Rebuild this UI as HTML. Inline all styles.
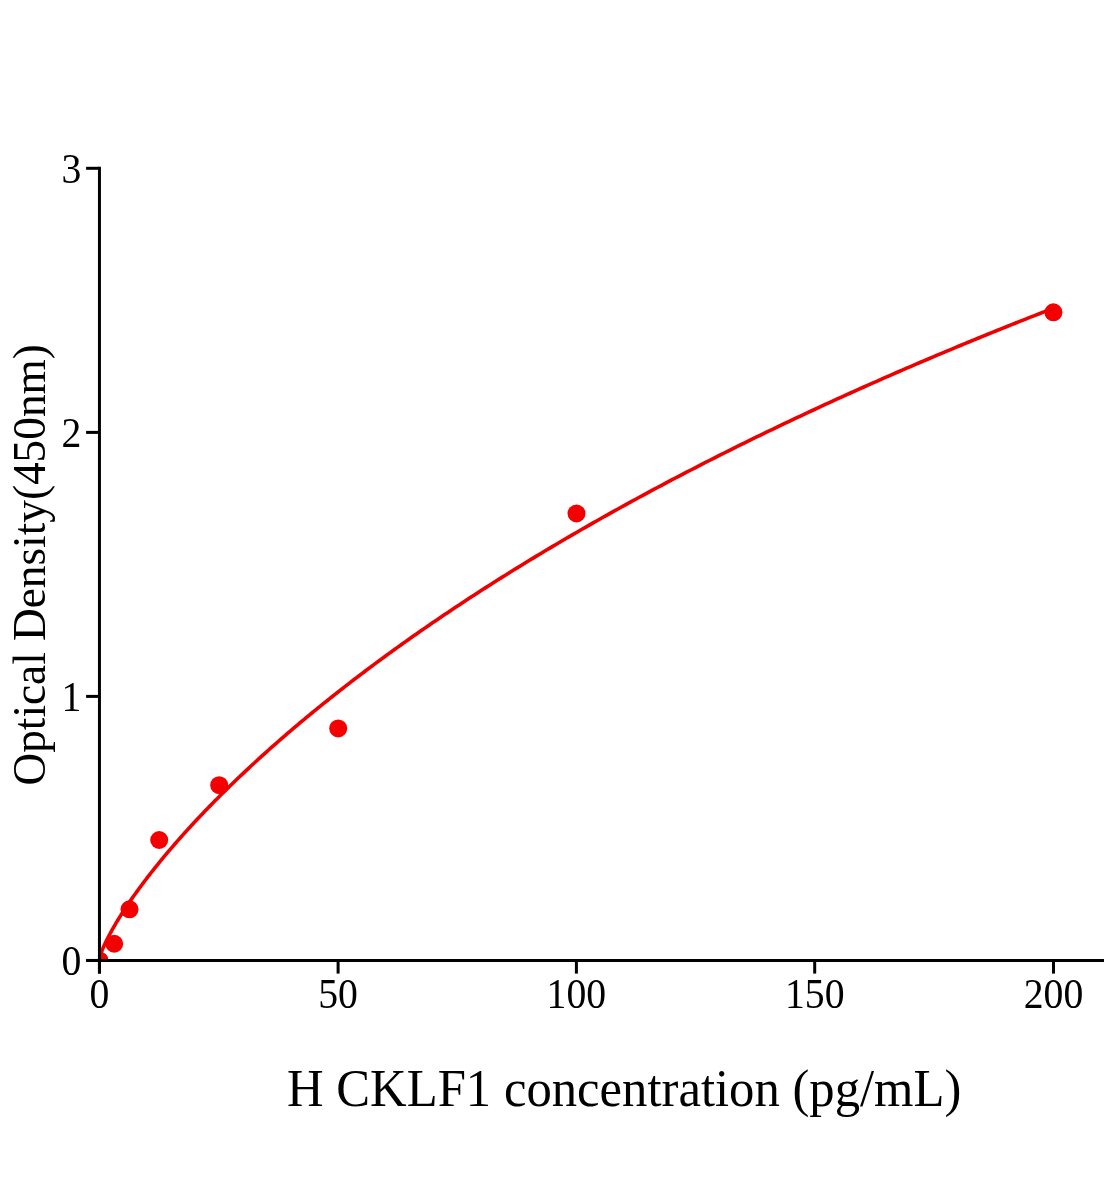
<!DOCTYPE html>
<html><head><meta charset="utf-8"><title>H CKLF1 standard curve</title>
<style>
html,body{margin:0;padding:0;background:#fff;}
body{width:1104px;height:1200px;overflow:hidden;}
svg{display:block;font-family:"Liberation Serif",serif;will-change:transform;}
</style></head>
<body>
<svg width="1104" height="1200" viewBox="0 0 1104 1200">
<rect width="1104" height="1200" fill="#ffffff"/>
<defs><clipPath id="plot"><rect x="99.45" y="0" width="1004.55" height="960.45"/></clipPath></defs>
<g fill="#f40000" clip-path="url(#plot)">
<circle cx="99.45" cy="960.45" r="9"/>
<circle cx="114.2" cy="943.75" r="9"/>
<circle cx="129.5" cy="909.3" r="9"/>
<circle cx="159.2" cy="840.0" r="9"/>
<circle cx="219.2" cy="785.2" r="9"/>
<circle cx="338.2" cy="728.4" r="9"/>
<circle cx="576.5" cy="513.5" r="9"/>
<circle cx="1053.4" cy="312.3" r="9"/>
</g>
<path d="M99.45,958.76 L99.46,958.69 L99.47,958.56 L99.50,958.38 L99.55,958.16 L99.60,957.90 L99.67,957.61 L99.74,957.29 L99.83,956.95 L99.94,956.58 L100.05,956.18 L100.18,955.76 L100.31,955.31 L100.46,954.85 L100.62,954.36 L100.80,953.85 L100.98,953.32 L101.18,952.77 L101.39,952.20 L101.61,951.62 L101.85,951.01 L102.09,950.39 L102.35,949.75 L102.62,949.09 L102.90,948.42 L103.20,947.73 L103.50,947.02 L103.82,946.30 L104.15,945.56 L104.49,944.81 L104.84,944.04 L105.21,943.25 L105.59,942.46 L105.98,941.64 L106.38,940.82 L106.79,939.98 L107.22,939.13 L107.65,938.26 L108.10,937.38 L108.57,936.48 L109.04,935.58 L109.52,934.66 L110.02,933.73 L110.53,932.78 L111.05,931.83 L111.59,930.86 L112.13,929.88 L112.69,928.89 L113.26,927.88 L113.84,926.87 L114.43,925.84 L115.04,924.80 L115.66,923.75 L116.28,922.69 L116.93,921.62 L117.58,920.54 L118.24,919.45 L118.92,918.34 L119.61,917.23 L120.31,916.11 L121.02,914.97 L121.75,913.83 L122.49,912.68 L123.24,911.51 L124.00,910.34 L124.77,909.16 L125.56,907.96 L126.35,906.76 L127.16,905.55 L127.98,904.33 L128.82,903.10 L129.66,901.86 L130.52,900.61 L131.39,899.36 L132.27,898.09 L133.16,896.82 L134.07,895.53 L134.98,894.24 L135.91,892.94 L136.85,891.63 L137.81,890.32 L138.77,888.99 L139.75,887.66 L140.74,886.32 L141.74,884.97 L142.75,883.61 L143.77,882.25 L144.81,880.88 L145.86,879.50 L146.92,878.11 L147.99,876.72 L149.08,875.31 L150.18,873.90 L151.28,872.49 L152.40,871.06 L153.54,869.63 L154.68,868.19 L155.84,866.75 L157.01,865.30 L158.19,863.84 L159.38,862.37 L160.59,860.90 L161.80,859.42 L163.03,857.94 L164.27,856.44 L165.52,854.95 L166.79,853.44 L168.06,851.93 L169.35,850.41 L170.65,848.89 L171.97,847.36 L173.29,845.82 L174.63,844.28 L175.98,842.73 L177.34,841.18 L178.71,839.62 L180.09,838.05 L181.49,836.48 L182.90,834.91 L184.32,833.32 L185.75,831.74 L187.19,830.14 L188.65,828.54 L190.12,826.94 L191.60,825.33 L193.09,823.72 L194.60,822.10 L196.11,820.47 L197.64,818.84 L199.18,817.21 L200.73,815.57 L202.30,813.92 L203.87,812.27 L205.46,810.61 L207.06,808.95 L208.67,807.29 L210.30,805.62 L211.93,803.95 L213.58,802.27 L215.24,800.59 L216.91,798.90 L218.60,797.21 L220.29,795.51 L222.00,793.81 L223.72,792.10 L225.45,790.40 L227.20,788.68 L228.95,786.96 L230.72,785.24 L232.50,783.52 L234.29,781.79 L236.10,780.05 L237.91,778.32 L239.74,776.57 L241.58,774.83 L243.43,773.08 L245.30,771.33 L247.17,769.57 L249.06,767.81 L250.96,766.04 L252.87,764.28 L254.80,762.51 L256.73,760.73 L258.68,758.95 L260.64,757.17 L262.61,755.39 L264.59,753.60 L266.59,751.81 L268.60,750.01 L270.62,748.21 L272.65,746.41 L274.69,744.61 L276.75,742.80 L278.82,740.99 L280.90,739.18 L282.99,737.36 L285.09,735.54 L287.21,733.72 L289.33,731.89 L291.47,730.07 L293.62,728.24 L295.79,726.40 L297.96,724.57 L300.15,722.73 L302.35,720.89 L304.56,719.04 L306.79,717.20 L309.02,715.35 L311.27,713.49 L313.53,711.64 L315.80,709.78 L318.08,707.93 L320.38,706.06 L322.69,704.20 L325.00,702.33 L327.34,700.47 L329.68,698.60 L332.03,696.72 L334.40,694.85 L336.78,692.97 L339.17,691.09 L341.58,689.21 L343.99,687.33 L346.42,685.44 L348.86,683.56 L351.31,681.67 L353.77,679.78 L356.25,677.89 L358.73,675.99 L361.23,674.10 L363.74,672.20 L366.27,670.30 L368.80,668.40 L371.35,666.49 L373.91,664.59 L376.48,662.68 L379.06,660.77 L381.66,658.87 L384.26,656.95 L386.88,655.04 L389.51,653.13 L392.16,651.21 L394.81,649.30 L397.48,647.38 L400.16,645.46 L402.85,643.54 L405.55,641.62 L408.27,639.69 L410.99,637.77 L413.73,635.84 L416.48,633.92 L419.25,631.99 L422.02,630.06 L424.81,628.13 L427.61,626.20 L430.42,624.26 L433.24,622.33 L436.07,620.40 L438.92,618.46 L441.78,616.52 L444.65,614.59 L447.53,612.65 L450.43,610.71 L453.33,608.77 L456.25,606.83 L459.18,604.89 L462.13,602.94 L465.08,601.00 L468.05,599.06 L471.03,597.11 L474.02,595.17 L477.02,593.22 L480.03,591.27 L483.06,589.33 L486.10,587.38 L489.15,585.43 L492.21,583.48 L495.29,581.53 L498.37,579.58 L501.47,577.63 L504.58,575.68 L507.70,573.73 L510.84,571.78 L513.98,569.83 L517.14,567.87 L520.31,565.92 L523.49,563.97 L526.69,562.02 L529.90,560.06 L533.11,558.11 L536.34,556.15 L539.59,554.20 L542.84,552.24 L546.11,550.29 L549.38,548.34 L552.67,546.38 L555.98,544.43 L559.29,542.47 L562.62,540.51 L565.96,538.56 L569.31,536.60 L572.67,534.65 L576.04,532.69 L579.43,530.74 L582.83,528.78 L586.24,526.83 L589.66,524.87 L593.09,522.92 L596.54,520.96 L600.00,519.01 L603.47,517.05 L606.95,515.10 L610.44,513.14 L613.95,511.19 L617.47,509.24 L621.00,507.28 L624.54,505.33 L628.09,503.37 L631.66,501.42 L635.23,499.47 L638.82,497.52 L642.43,495.57 L646.04,493.61 L649.67,491.66 L653.30,489.71 L656.95,487.76 L660.62,485.81 L664.29,483.86 L667.97,481.91 L671.67,479.96 L675.38,478.02 L679.10,476.07 L682.84,474.12 L686.58,472.17 L690.34,470.23 L694.11,468.28 L697.89,466.34 L701.69,464.39 L705.49,462.45 L709.31,460.51 L713.14,458.56 L716.98,456.62 L720.83,454.68 L724.70,452.74 L728.58,450.80 L732.47,448.86 L736.37,446.92 L740.28,444.98 L744.21,443.05 L748.14,441.11 L752.09,439.18 L756.05,437.24 L760.03,435.31 L764.01,433.37 L768.01,431.44 L772.02,429.51 L776.04,427.58 L780.08,425.65 L784.12,423.72 L788.18,421.79 L792.25,419.87 L796.33,417.94 L800.42,416.02 L804.53,414.09 L808.64,412.17 L812.77,410.25 L816.91,408.32 L821.07,406.40 L825.23,404.48 L829.41,402.57 L833.60,400.65 L837.80,398.73 L842.01,396.82 L846.24,394.90 L850.48,392.99 L854.72,391.08 L858.99,389.17 L863.26,387.26 L867.54,385.35 L871.84,383.44 L876.15,381.53 L880.47,379.63 L884.80,377.72 L889.15,375.82 L893.51,373.92 L897.87,372.02 L902.26,370.12 L906.65,368.22 L911.05,366.32 L915.47,364.42 L919.90,362.53 L924.34,360.63 L928.79,358.74 L933.26,356.85 L937.73,354.96 L942.22,353.07 L946.72,351.18 L951.24,349.30 L955.76,347.41 L960.30,345.53 L964.85,343.65 L969.41,341.77 L973.98,339.89 L978.56,338.01 L983.16,336.13 L987.77,334.26 L992.39,332.38 L997.02,330.51 L1001.67,328.64 L1006.32,326.77 L1010.99,324.90 L1015.67,323.03 L1020.37,321.17 L1025.07,319.30 L1029.79,317.44 L1034.52,315.58 L1039.26,313.72 L1044.01,311.86 L1048.77,310.00 L1053.55,308.14" fill="none" stroke="#ee0000" stroke-width="3.6" stroke-linejoin="round" clip-path="url(#plot)"/>
<g stroke="#000" stroke-width="3" fill="none">
<line x1="99.45" y1="166.8" x2="99.45" y2="973.6"/>
<line x1="86.1" y1="960.45" x2="1104" y2="960.45"/>
<line x1="86.1" y1="168.3" x2="99.45" y2="168.3"/>
<line x1="86.1" y1="432.4" x2="99.45" y2="432.4"/>
<line x1="86.1" y1="696.4" x2="99.45" y2="696.4"/>
<line x1="86.1" y1="960.45" x2="99.45" y2="960.45"/>
<line x1="99.45" y1="960.45" x2="99.45" y2="973.6"/>
<line x1="338.1" y1="960.45" x2="338.1" y2="973.6"/>
<line x1="576.4" y1="960.45" x2="576.4" y2="973.6"/>
<line x1="814.7" y1="960.45" x2="814.7" y2="973.6"/>
<line x1="1053.5" y1="960.45" x2="1053.5" y2="973.6"/>
</g>
<g fill="#000" font-size="43.2px">
<text transform="translate(81.3,182.6) scale(0.92,1)" text-anchor="end">3</text>
<text transform="translate(81.3,446.7) scale(0.92,1)" text-anchor="end">2</text>
<text transform="translate(81.3,710.7) scale(0.92,1)" text-anchor="end">1</text>
<text transform="translate(81.3,974.8) scale(0.92,1)" text-anchor="end">0</text>
<text transform="translate(99.45,1007.5) scale(0.92,1)" text-anchor="middle">0</text>
<text transform="translate(338.1,1007.5) scale(0.92,1)" text-anchor="middle">50</text>
<text transform="translate(576.4,1007.5) scale(0.92,1)" text-anchor="middle">100</text>
<text transform="translate(814.7,1007.5) scale(0.92,1)" text-anchor="middle">150</text>
<text transform="translate(1053.5,1007.5) scale(0.92,1)" text-anchor="middle">200</text>
</g>
<text transform="translate(287,1106) scale(0.9477,1)" font-size="53.5px" fill="#000">H CKLF1 concentration (pg/mL)</text>
<text transform="translate(45.0,785.5) rotate(-90) scale(0.9615,1)" font-size="47.1px" fill="#000">Optical Density(450nm)</text>
</svg>
</body></html>
